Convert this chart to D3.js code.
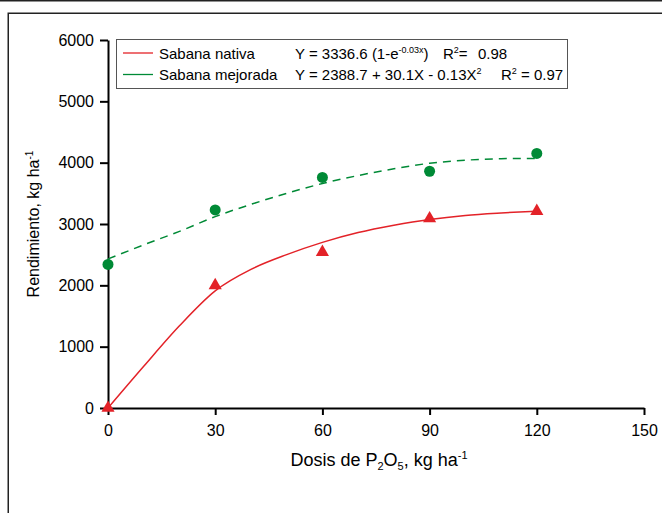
<!DOCTYPE html>
<html>
<head>
<meta charset="utf-8">
<script src="https://cdn.jsdelivr.net/npm/d3@7"></script>
<style>
  html, body { margin: 0; padding: 0; background: #fff; }
  svg { display: block; }
  text { font-family: "Liberation Sans", Arial, sans-serif; fill: #000; }
</style>
</head>
<body>
<svg id="chart" width="662" height="513"></svg>
<script>
// ---- data ----
const doses = [0, 30, 60, 90, 120];
const nativaObs = [0, 2000, 2540, 3090, 3210];
const mejoradaObs = [2340, 3230, 3760, 3860, 4150];
const fitX = [0, 10, 20, 30, 40, 50, 60, 70, 80, 90, 100, 110, 120];
const nativaFit = [0, 680, 1340, 1910, 2260, 2500, 2700, 2860, 2980, 3075, 3140, 3180, 3210];
const mejoradaFit = [2430, 2660, 2880, 3120, 3320, 3500, 3660, 3790, 3900, 3990, 4040, 4065, 4070];
const xTicks = [0, 30, 60, 90, 120, 150];
const yTicks = [0, 1000, 2000, 3000, 4000, 5000, 6000];

const RED = "#e32228", GREEN = "#008a36";

const svg = d3.select("#chart");

// outer frame
svg.append("line").attr("x1", 0).attr("x2", 662).attr("y1", 0.75).attr("y2", 0.75)
  .attr("stroke", "#222").attr("stroke-width", 1.5);
svg.append("rect").attr("x", 8.25).attr("y", 13.25).attr("width", 700).attr("height", 600)
  .attr("fill", "none").attr("stroke", "#222").attr("stroke-width", 1.5);

const x = d3.scaleLinear().domain([0, 150]).range([108, 644]);
const y = d3.scaleLinear().domain([0, 6000]).range([408, 40]);

// axes
const gx = svg.append("g").attr("transform", `translate(0,${y(0)})`)
  .call(d3.axisBottom(x).tickValues(xTicks).tickFormat(d3.format("d"))
    .tickSize(7).tickPadding(10).tickSizeOuter(0));
const gy = svg.append("g").attr("transform", `translate(${x(0)},0)`)
  .call(d3.axisLeft(y).tickValues(yTicks).tickFormat(d3.format("d"))
    .tickSize(8).tickPadding(6).tickSizeOuter(0));
[gx, gy].forEach(g => {
  g.selectAll("path.domain").attr("stroke", "#000").attr("stroke-width", 2);
  g.selectAll(".tick line").attr("stroke", "#000").attr("stroke-width", 2);
  g.selectAll(".tick text").attr("font-size", 16).attr("font-family", '"Liberation Sans", Arial, sans-serif').attr("fill", "#000");
});

// axis titles
const xt = svg.append("text").attr("x", 379).attr("y", 466).attr("text-anchor", "middle").attr("font-size", 18);
xt.append("tspan").text("Dosis de P");
xt.append("tspan").attr("font-size", 11).attr("dy", 4).text("2");
xt.append("tspan").attr("dy", -4).text("O");
xt.append("tspan").attr("font-size", 11).attr("dy", 4).text("5");
xt.append("tspan").attr("dy", -4).text(", kg ha");
xt.append("tspan").attr("font-size", 11).attr("dy", -7).text("-1");

const yt = svg.append("text").attr("transform", "translate(39,224) rotate(-90)")
  .attr("text-anchor", "middle").attr("font-size", 16);
yt.append("tspan").text("Rendimiento, kg ha");
yt.append("tspan").attr("font-size", 10).attr("dy", -6).text("-1");

// fitted curves
const line = d3.line().x(d => x(d[0])).y(d => y(d[1])).curve(d3.curveMonotoneX);
svg.append("path").datum(fitX.map((v, i) => [v, nativaFit[i]]))
  .attr("d", line).attr("fill", "none").attr("stroke", RED).attr("stroke-width", 1.5);
svg.append("path").datum(fitX.map((v, i) => [v, mejoradaFit[i]]))
  .attr("d", line).attr("fill", "none").attr("stroke", GREEN).attr("stroke-width", 1.5)
  .attr("stroke-dasharray", "8,6");

// observed points
svg.append("g").selectAll("path").data(doses.map((d, i) => [d, nativaObs[i]])).join("path")
  .attr("d", d3.symbol(d3.symbolTriangle, 75))
  .attr("transform", d => `translate(${x(d[0])},${y(d[1])})`)
  .attr("fill", RED);
svg.append("g").selectAll("circle").data(doses.map((d, i) => [d, mejoradaObs[i]])).join("circle")
  .attr("cx", d => x(d[0])).attr("cy", d => y(d[1])).attr("r", 5.5)
  .attr("fill", GREEN);

// legend
const lg = svg.append("g");
lg.append("rect").attr("x", 116.5).attr("y", 39.5).attr("width", 451).attr("height", 49)
  .attr("fill", "#fff").attr("stroke", "#555").attr("stroke-width", 1);
const rows = [
  { name: "Sabana nativa", color: RED, base: 58.5 },
  { name: "Sabana mejorada", color: GREEN, base: 80 }
];
rows.forEach(r => {
  lg.append("line").attr("x1", 123).attr("x2", 153).attr("y1", r.base - 5.5).attr("y2", r.base - 5.5)
    .attr("stroke", r.color).attr("stroke-width", 1.3);
  lg.append("text").attr("x", 159).attr("y", r.base).attr("font-size", 15).text(r.name);
});
const e1 = lg.append("text").attr("x", 295).attr("y", rows[0].base).attr("font-size", 15);
e1.append("tspan").text("Y = 3336.6 (1-e");
e1.append("tspan").attr("font-size", 9).attr("dy", -6).text("-0.03x");
e1.append("tspan").attr("dy", 6).text(")");
const r1 = lg.append("text").attr("x", 443).attr("y", rows[0].base).attr("font-size", 15);
r1.append("tspan").text("R");
r1.append("tspan").attr("font-size", 9).attr("dy", -6).text("2");
r1.append("tspan").attr("dy", 6).text("=");
lg.append("text").attr("x", 478).attr("y", rows[0].base).attr("font-size", 15).text("0.98");

const e2 = lg.append("text").attr("x", 295).attr("y", rows[1].base).attr("font-size", 15);
e2.append("tspan").text("Y = 2388.7 + 30.1X - 0.13X");
e2.append("tspan").attr("font-size", 9).attr("dy", -6).text("2");
const r2 = lg.append("text").attr("x", 501).attr("y", rows[1].base).attr("font-size", 15);
r2.append("tspan").text("R");
r2.append("tspan").attr("font-size", 9).attr("dy", -6).text("2");
r2.append("tspan").attr("dy", 6).text(" = 0.97");
</script>
</body>
</html>
